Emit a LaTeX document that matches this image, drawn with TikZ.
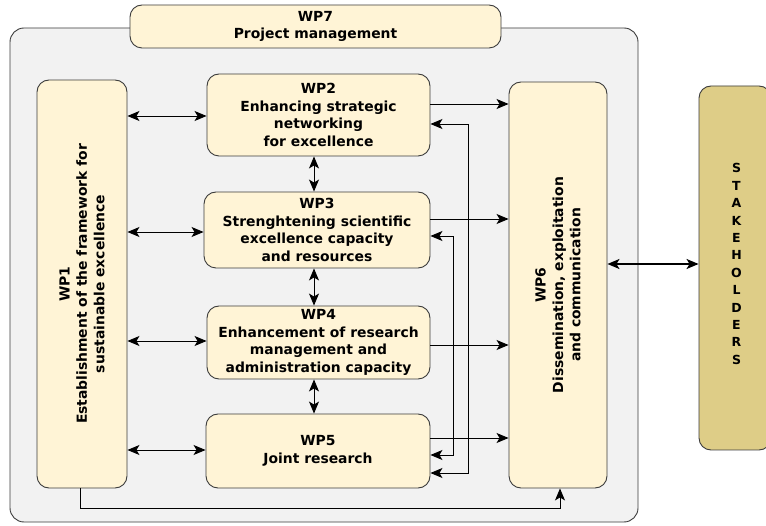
\documentclass[tikz,border=0pt]{standalone}
\usepackage{fontspec}
\setmainfont{DejaVu Sans}
\usetikzlibrary{arrows.meta}
\definecolor{wpfill}{HTML}{FFF4D6}
\definecolor{panel}{HTML}{F2F2F2}
\definecolor{stake}{HTML}{DECD87}
\definecolor{edge}{HTML}{3C3C3C}
\tikzset{
  wpfont/.style={font=\fontsize{13.9}{17.4}\selectfont\bfseries},
  wpbox/.style={draw=edge, line width=0.9pt, fill=wpfill, rounded corners=12pt,
    inner sep=0pt, align=center, wpfont},
  tip/.tip={Stealth[length=12pt,width=10pt,inset=3pt]},
  link/.style={draw=black, line width=0.85pt, tip-tip},
  flow/.style={draw=black, line width=0.85pt, -tip},
}
\begin{document}
\begin{tikzpicture}[x=1pt,y=-1pt]
\clip (0,0) rectangle (766,526);
\fill[white] (0,0) rectangle (766,526);
% project frame
\draw[draw=edge, line width=0.9pt, fill=panel, rounded corners=14pt] (10,28) rectangle (638,522);
\node[wpbox, minimum width=371pt, minimum height=43pt] (wp7) at (315.5,26.5) {WP7\\Project management};
% work packages
\node[wpbox, minimum width=90pt, minimum height=408pt] (wp1) at (82,284) {};
\node[rotate=90, align=center, wpfont] at (wp1.center)
  {WP1\\Establishment of the framework for\\sustainable excellence};
\node[wpbox, minimum width=223pt, minimum height=82pt] (wp2) at (318.5,115) {WP2\\Enhancing strategic\\networking\\for excellence};
\node[wpbox, minimum width=226pt, minimum height=76pt] (wp3) at (317,230) {WP3\\Strenghtening scientific\\excellence capacity\\and resources};
\node[wpbox, minimum width=223pt, minimum height=73pt] (wp4) at (318.5,342.5) {WP4\\Enhancement of research\\management and\\administration capacity};
\node[wpbox, minimum width=224pt, minimum height=74pt] (wp5) at (318,451) {WP5\\Joint research};
\node[wpbox, minimum width=98pt, minimum height=406pt] (wp6) at (558,285) {};
\node[rotate=90, align=center, wpfont] at (wp6.center)
  {WP6\\Dissemination, exploitation\\and communication};
% stakeholders
\node[draw=edge, line width=0.9pt, fill=stake, rounded corners=12pt, minimum width=72pt,
  minimum height=364pt, inner sep=0pt] (stk) at (735,268) {};
\node[align=center, font=\fontsize{12.5}{17.4}\selectfont\bfseries] at (736.5,264)
  {S\\T\\A\\K\\E\\H\\O\\L\\D\\E\\R\\S};
% WP1 exchanges
\draw[link] (wp1.east |- 0,116) -- (wp2.west |- 0,116);
\draw[link] (wp1.east |- 0,232) -- (wp3.west |- 0,232);
\draw[link] (wp1.east |- 0,341) -- (wp4.west |- 0,341);
\draw[link] (wp1.east |- 0,450) -- (wp5.west |- 0,450);
% chain WP2..WP5
\draw[link] (wp2.south -| 314,0) -- (wp3.north -| 314,0);
\draw[link] (wp3.south -| 314,0) -- (wp4.north -| 314,0);
\draw[link] (wp4.south -| 314,0) -- (wp5.north -| 314,0);
% outputs to WP6
\draw[flow] (wp2.east |- 0,104) -- (wp6.west |- 0,104);
\draw[flow] (wp3.east |- 0,219) -- (wp6.west |- 0,219);
\draw[flow] (wp4.east |- 0,345) -- (wp6.west |- 0,345);
\draw[flow] (wp5.east |- 0,438) -- (wp6.west |- 0,438);
% feedback loops
\coordinate (fb1) at (468,124);
\coordinate (fb2) at (453,236);
\draw[link] (wp5.east |- 0,473) -| (fb1) -- (wp2.east |- fb1);
\draw[link] (wp5.east |- 0,455) -| (fb2) -- (wp3.east |- fb2);
% WP1 to WP6
\coordinate (lowA) at (80,508);
\coordinate (lowB) at (560,508);
\draw[flow] (wp1.south -| lowA) -- (lowA) -- (lowB) -- (wp6.south -| lowB);
% WP6 and stakeholders
\draw[link, line width=1.6pt] (wp6.east |- 0,264) -- (stk.west |- 0,264);
\end{tikzpicture}
\end{document}
